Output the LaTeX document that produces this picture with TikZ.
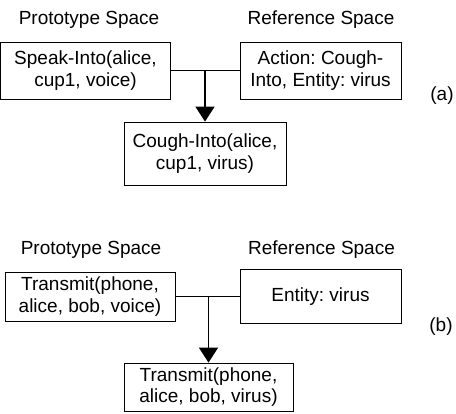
\documentclass[tikz,border=0pt]{standalone}
\usepackage{fontspec}
\setmainfont{Liberation Sans}
\frenchspacing
\usetikzlibrary{arrows.meta}
\begin{document}
\begin{tikzpicture}[x=1pt,y=-1pt,
	space/.style={draw, line width=0.8pt, align=center, inner sep=0pt, font=\fontsize{19}{21.7}\selectfont},
	title/.style={font=\fontsize{19}{22}\selectfont},
	link/.style={draw, line width=1.6pt},
	arrow/.style={link, -{Triangle[width=19pt,length=15pt]}}
]
	\useasboundingbox (0,0) rectangle (456,414);

	% Part (a)
	\node[title] (ptA) at (89,20) {Prototype Space};
	\node[title] (rtA) at (321,20) {Reference Space};
	\node[space, minimum width=170pt, minimum height=57pt] (protoA) at (85.5,70.5) {Speak-Into(alice,\\cup1, voice)};
	\node[space, minimum width=161pt, minimum height=57pt] (refA) at (320.5,70.5) {Action: Cough-\\Into, Entity: virus};
	\node[space, minimum width=162pt, minimum height=63pt] (resA) at (205,153.5) {Cough-Into(alice,\\cup1, virus)};
	\node[title] (labA) at (442,96) {(a)};

	% Part (b)
	\node[title] (ptB) at (91,250) {Prototype Space};
	\node[title] (rtB) at (321.5,250) {Reference Space};
	\node[space, minimum width=170pt, minimum height=49pt] (protoB) at (90,296.5) {Transmit(phone,\\alice, bob, voice)};
	\node[space, minimum width=161pt, minimum height=54pt] (refB) at (320.5,296.5) {Entity: virus};
	\node[space, minimum width=169pt, minimum height=48pt] (resB) at (208.5,387) {Transmit(phone,\\alice, bob, virus)};
	\node[title] (labB) at (441,327) {(b)};

	% Connectors
	\draw[link] (protoA) -- (refA);
	\coordinate (jA) at (protoA.east -| resA.north);
	\draw[arrow] (jA) -- (resA);
	\draw[link] (protoB) -- (refB);
	\coordinate (jB) at (protoB.east -| resB.north);
	\draw[arrow] (jB) -- (resB);

\end{tikzpicture}
\end{document}
